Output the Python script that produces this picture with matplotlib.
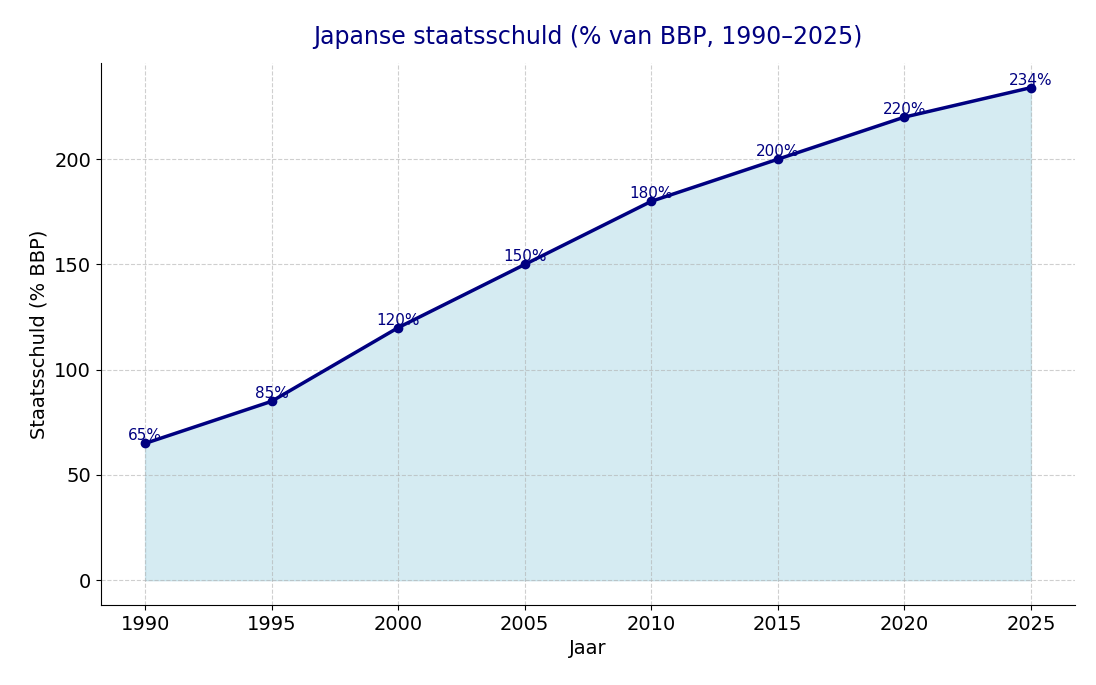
import matplotlib.pyplot as plt

# Data
jaren = [1990, 1995, 2000, 2005, 2010, 2015, 2020, 2025]
schuld = [65, 85, 120, 150, 180, 200, 220, 234]

fig, ax = plt.subplots(figsize=(10.96, 6.85), dpi=100)

ax.fill_between(jaren, schuld, color='lightblue', alpha=0.5)
ax.plot(jaren, schuld, color='navy', marker='o', linewidth=2.5)

for x, y in zip(jaren, schuld):
    ax.text(x, y, f"{y}%", ha='center', va='bottom', fontsize=11, color='navy')

ax.set_title('Japanse staatsschuld (% van BBP, 1990–2025)', fontsize=17, color='navy', pad=14)
ax.set_xlabel('Jaar', fontsize=14)
ax.set_ylabel('Staatsschuld (% BBP)', fontsize=14)
ax.set_xticks(jaren)
ax.tick_params(labelsize=14)
ax.grid(True, linestyle='--', alpha=0.6)
ax.spines['top'].set_visible(False)
ax.spines['right'].set_visible(False)

plt.subplots_adjust(left=0.092, right=0.981, top=0.908, bottom=0.117)
plt.savefig('out.png')
